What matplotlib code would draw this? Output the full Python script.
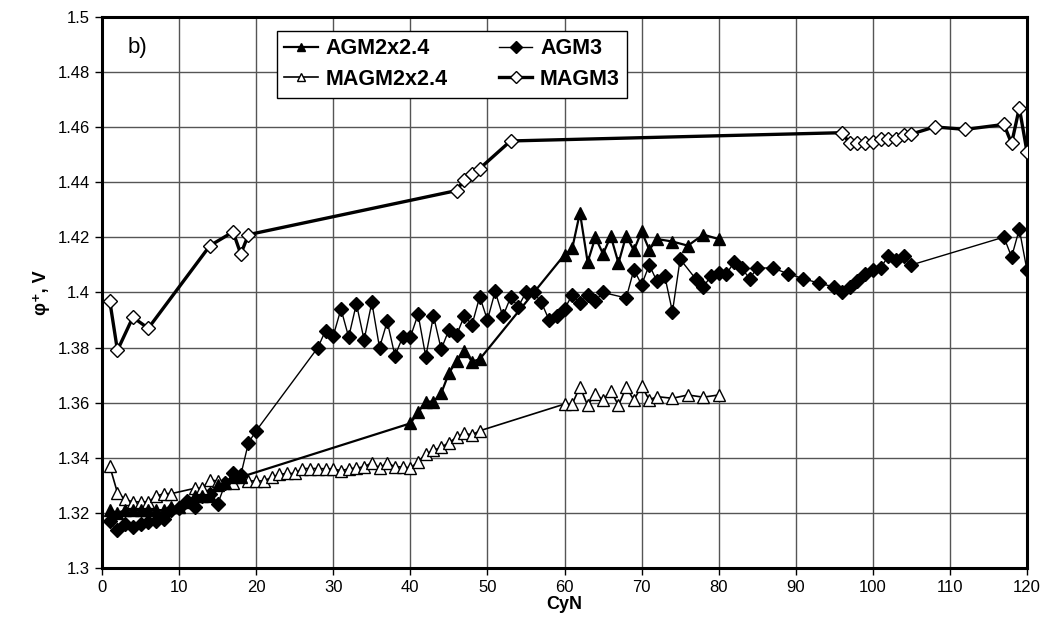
import matplotlib
matplotlib.use("Agg")
import matplotlib.pyplot as plt
from matplotlib.ticker import MultipleLocator, FormatStrFormatter

plt.rcParams['font.family'] = ['Liberation Sans', 'DejaVu Sans']

# AGM2x2.4 (filled triangles)
agm2_x = [1, 2, 3, 4, 5, 6, 7, 8, 9, 10, 11, 12, 13, 14, 15, 16, 17, 18,
          40, 41, 42, 43, 44, 45, 46, 47, 48, 49,
          60, 61, 62, 63, 64, 65, 66, 67, 68, 69, 70, 71, 72, 74, 76, 78, 80]
agm2_y = [1.321, 1.320, 1.321, 1.321, 1.321, 1.321, 1.321, 1.321, 1.322, 1.322,
          1.324, 1.326, 1.326, 1.326, 1.330, 1.331, 1.333, 1.333,
          1.3525, 1.3565, 1.3604, 1.3604, 1.3634, 1.3707, 1.3752, 1.3789, 1.3749, 1.3758,
          1.4137, 1.416, 1.429, 1.411, 1.420, 1.414, 1.4204, 1.4107, 1.4206, 1.4153,
          1.4222, 1.4155, 1.4194, 1.4185, 1.417, 1.421, 1.4194]

# AGM3 (filled diamonds)
agm3_x = [1, 2, 3, 4, 5, 6, 7, 8, 9, 10, 11, 12, 13, 14, 15, 16, 17, 18, 19, 20,
          28, 29, 30, 31, 32, 33, 34, 35, 36, 37, 38, 39, 40, 41, 42, 43, 44, 45,
          46, 47, 48, 49, 50, 51, 52, 53, 54, 55, 56, 57, 58, 59, 60, 61, 62, 63,
          64, 65, 68, 69, 70, 71, 72, 73, 74, 75, 77, 78, 79, 80, 81, 82, 83, 84,
          85, 87, 89, 91, 93, 95, 96, 97, 98, 99, 100, 101, 102, 103, 104, 105,
          117, 118, 119, 120]
agm3_y = [1.317, 1.3137, 1.316, 1.3147, 1.316, 1.3167, 1.317, 1.3177, 1.321, 1.3216,
          1.3243, 1.3222, 1.326, 1.327, 1.3232, 1.3307, 1.3343, 1.3337, 1.3455, 1.3498,
          1.380, 1.3862, 1.3843, 1.394, 1.3838, 1.3959, 1.3828, 1.3964, 1.380, 1.3895,
          1.377, 1.3838, 1.3838, 1.3921, 1.3767, 1.3915, 1.3794, 1.3864, 1.3846, 1.3915,
          1.3883, 1.3985, 1.390, 1.4004, 1.3913, 1.3982, 1.3949, 1.400, 1.400, 1.3964,
          1.390, 1.3915, 1.394, 1.3992, 1.3961, 1.3992, 1.397, 1.400, 1.398, 1.4083,
          1.4028, 1.410, 1.404, 1.406, 1.393, 1.4121, 1.405, 1.402, 1.406, 1.407,
          1.4067, 1.411, 1.4089, 1.405, 1.4089, 1.4089, 1.4068, 1.405, 1.4034, 1.402,
          1.400, 1.402, 1.404, 1.4068, 1.4083, 1.409, 1.4131, 1.4119, 1.4131, 1.410,
          1.4201, 1.4129, 1.423, 1.408]

# MAGM2x2.4 (open triangles)
magm2_x = [1, 2, 3, 4, 5, 6, 7, 8, 9, 12, 13, 14, 15, 17, 19, 20, 21, 22, 23, 24,
           25, 26, 27, 28, 29, 30, 31, 32, 33, 34, 35, 36, 37, 38, 39, 40, 41, 42,
           43, 44, 45, 46, 47, 48, 49, 60, 61, 62, 63, 64, 65, 66, 67, 68, 69, 70,
           71, 72, 74, 76, 78, 80]
magm2_y = [1.337, 1.3273, 1.3249, 1.324, 1.324, 1.324, 1.326, 1.327, 1.327, 1.3289,
           1.329, 1.3319, 1.3316, 1.3309, 1.3316, 1.3316, 1.3316, 1.3329, 1.334, 1.3343,
           1.3343, 1.3361, 1.3361, 1.3361, 1.336, 1.336, 1.3353, 1.336, 1.3363, 1.3367,
           1.3382, 1.3363, 1.3382, 1.3367, 1.3367, 1.3363, 1.3385, 1.3413, 1.3427, 1.3438,
           1.3455, 1.3474, 1.3489, 1.3483, 1.3498, 1.3595, 1.3595, 1.3658, 1.359, 1.3632,
           1.361, 1.3644, 1.359, 1.3656, 1.361, 1.366, 1.361, 1.3622, 1.3616, 1.3628,
           1.362, 1.3628]

# MAGM3 (open diamonds)
magm3_x = [1, 2, 4, 6, 14, 17, 18, 19, 46, 47, 48, 49, 53, 96, 97, 98, 99, 100,
           101, 102, 103, 104, 105, 108, 112, 117, 118, 119, 120]
magm3_y = [1.397, 1.379, 1.391, 1.387, 1.417, 1.422, 1.414, 1.421, 1.437, 1.441,
           1.443, 1.445, 1.455, 1.458, 1.4541, 1.4541, 1.4543, 1.4545, 1.4556, 1.4558,
           1.4558, 1.457, 1.4575, 1.4601, 1.4592, 1.461, 1.4541, 1.467, 1.451]

fig = plt.figure(figsize=(10.54, 6.41), dpi=100)
ax = fig.add_axes([0.0968, 0.1139, 0.8776, 0.8596])

ax.plot(agm3_x, agm3_y, color='black', lw=1.0, marker='D', ms=7.5,
        mfc='black', mec='black', label='AGM3', zorder=3)
ax.plot(magm2_x, magm2_y, color='black', lw=1.2, marker='^', ms=8.5,
        mfc='white', mec='black', mew=1.0, label='MAGM2x2.4', zorder=3)
ax.plot(agm2_x, agm2_y, color='black', lw=1.6, marker='^', ms=8.5,
        mfc='black', mec='black', label='AGM2x2.4', zorder=4)
ax.plot(magm3_x, magm3_y, color='black', lw=2.4, marker='D', ms=7.5,
        mfc='white', mec='black', mew=1.0, label='MAGM3', zorder=4)

ax.set_xlim(0, 120)
ax.set_ylim(1.3, 1.5)
ax.xaxis.set_major_locator(MultipleLocator(10))
ax.yaxis.set_major_locator(MultipleLocator(0.02))
ax.yaxis.set_major_formatter(FormatStrFormatter('%g'))
ax.grid(True, color='#555555', lw=1.0)
ax.set_axisbelow(True)
for s in ax.spines.values():
    s.set_linewidth(2.2)
ax.tick_params(labelsize=12, length=5, width=1, direction='out')

ax.set_xlabel('CyN', fontsize=13, fontweight='bold', labelpad=1)
ax.set_ylabel('φ⁺, V', fontsize=13, fontweight='bold', labelpad=6)
ax.text(0.028, 0.935, 'b)', transform=ax.transAxes, fontsize=16)

h, l = ax.get_legend_handles_labels()
order = [2, 1, 0, 3]
leg = ax.legend([h[i] for i in order], [l[i] for i in order], ncol=2,
                loc='upper left', bbox_to_anchor=(0.189, 0.975), borderaxespad=0,
                prop={'weight': 'bold', 'size': 15.5}, frameon=True, fancybox=False,
                edgecolor='black', framealpha=1, handlelength=1.55, handletextpad=0.35,
                columnspacing=2.4, borderpad=0.35, labelspacing=0.45, markerscale=0.75)
leg.get_frame().set_linewidth(1.0)

plt.savefig('out.png', dpi=100)
